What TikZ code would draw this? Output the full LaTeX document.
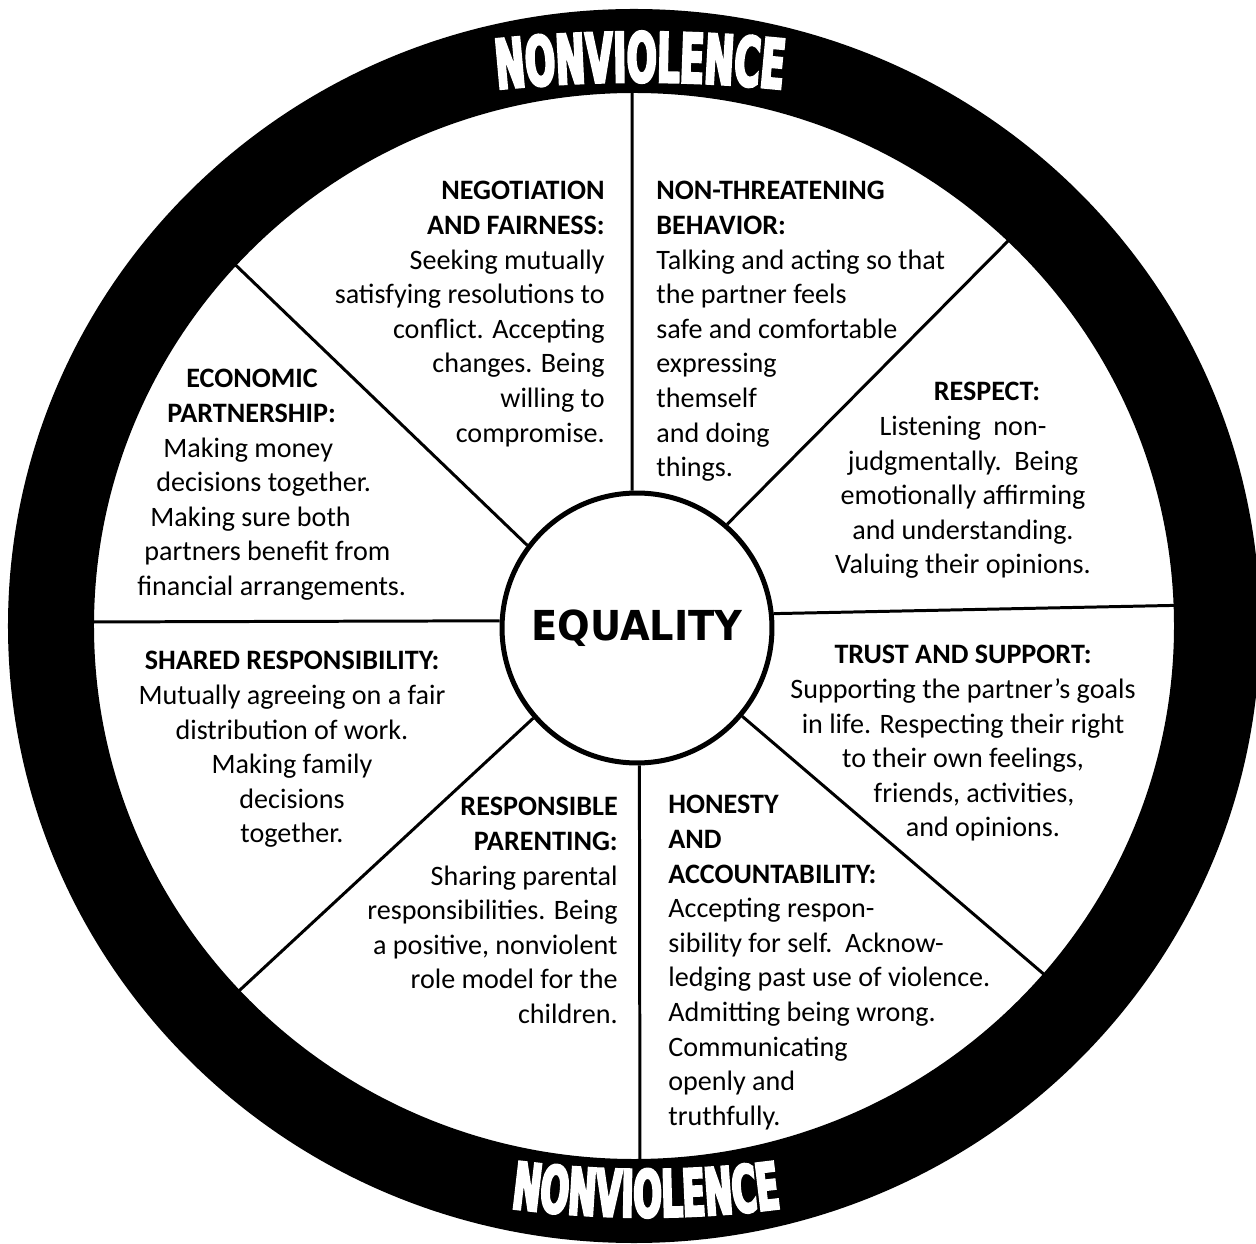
\documentclass[tikz,border=0pt]{standalone}
\usepackage{fontspec}
\setmainfont{Carlito}
\newfontfamily\eqfont{DejaVu Sans}[FakeStretch=0.93]
\newfontfamily\ringfont{DejaVu Sans}[FakeStretch=0.515]
\newcommand\heavyglyphs{\special{pdf:literal direct 2 Tr 1.4 w}}
\usetikzlibrary{decorations.text}

\begin{document}
\begin{tikzpicture}[
  x=0.02cm, y=0.02cm,
  spoke/.style={line width=1.7pt},
  wedge/.style={inner sep=0pt, font=\fontsize{16}{19.7}\selectfont},
  hub/.style={draw, circle, line width=2.85pt, minimum size=5.4cm, fill=white,
    font=\eqfont\bfseries\fontsize{23.5}{23.5}\selectfont},
  ringtext/.style={decorate, decoration={text along path, text align=center, text={#1}}}
]
\useasboundingbox (-634,-617) rectangle (622,626);
\coordinate (c) at (0,0);
\coordinate (rim-n) at (-2,560);
\coordinate (rim-ne) at (382,393);
\coordinate (rim-e) at (560,21);
\coordinate (rim-se) at (426,-362);
\coordinate (rim-s) at (6,-560);
\coordinate (rim-sw) at (-407,-376);
\coordinate (rim-w) at (-560,4);
\coordinate (rim-nw) at (-413,375);

\node[hub] (eq) at (3,-2) {EQUALITY};
\foreach \a/\r in {92/n, 49.5/ne, 6/e, -40/se, -89/s, 221/sw, 177.5/w, 143/nw}
  \draw[spoke] (eq.\a) -- (rim-\r);

\fill[even odd rule] (c) ellipse[x radius=626, y radius=617]
  (c) ellipse[x radius=540, y radius=533];
\begin{scope}
\path[ringtext={|\ringfont\bfseries\fontsize{39}{39}\selectfont\color{white}\heavyglyphs|NONVIOLENCE}]
  (6,-856) ++(100:1400) arc[start angle=100, end angle=80, radius=1400];
\path[ringtext={|\ringfont\bfseries\fontsize{37}{37}\selectfont\color{white}\heavyglyphs|NONVIOLENCE}]
  (12,452) ++(258:1043) arc[start angle=258, end angle=282, radius=1043];
\end{scope}

\node[wedge, anchor=north east, align=right] (negotiation) at (-29,445)
  {\textbf{NEGOTIATION}\\\textbf{AND FAIRNESS:}\\Seeking mutually\\satisfying resolutions to\\
   conflict. Accepting\\changes. Being\\willing to\\compromise.};
\node[wedge, anchor=north west, align=left] (nonthreat) at (22,445)
  {\textbf{NON-THREATENING}\\\textbf{BEHAVIOR:}\\Talking and acting so that\\the partner feels\\
   safe and comfortable\\expressing\\themself\\and doing\\things.};
\node[wedge, anchor=north, align=center] (respect) at (329,244)
  {\hspace*{0.96cm}\textbf{RESPECT:}\\Listening~~non-\\judgmentally.~~Being\\emotionally affirming\\
   and understanding.\\Valuing their opinions.};
\node[wedge, anchor=north, align=center] (trust) at (329,-19)
  {\textbf{TRUST AND SUPPORT:}\\Supporting the partner’s goals\\in life. Respecting their right\\
   to their own feelings,\\\hspace*{0.44cm}friends, activities,\\\hspace*{0.8cm}and opinions.};
\node[wedge, anchor=north west, align=left] (honesty) at (34,-169)
  {\textbf{HONESTY}\\\textbf{AND}\\\textbf{ACCOUNTABILITY:}\\Accepting respon-\\
   sibility for self.~~Acknow-\\ledging past use of violence.\\Admitting being wrong.\\
   Communicating\\openly and\\truthfully.};
\node[wedge, anchor=north east, align=right] (parenting) at (-16,-171)
  {\textbf{RESPONSIBLE}\\\textbf{PARENTING:}\\Sharing parental\\responsibilities. Being\\
   a positive, nonviolent\\role model for the\\children.};
\node[wedge, anchor=north, align=center] (shared) at (-342,-25)
  {\textbf{SHARED RESPONSIBILITY:}\\Mutually agreeing on a fair\\distribution of work.\\
   Making family\\decisions\\together.};
\node[wedge, anchor=north west, align=left] (economic) at (-497,257)
  {\hspace*{0.98cm}\textbf{ECONOMIC}\\\hspace*{0.6cm}\textbf{PARTNERSHIP:}\\
   \hspace*{0.52cm}Making money\\\hspace*{0.38cm}decisions together.\\
   \hspace*{0.26cm}Making sure both\\\hspace*{0.14cm}partners benefit from\\
   financial arrangements.};
\end{tikzpicture}
\end{document}
